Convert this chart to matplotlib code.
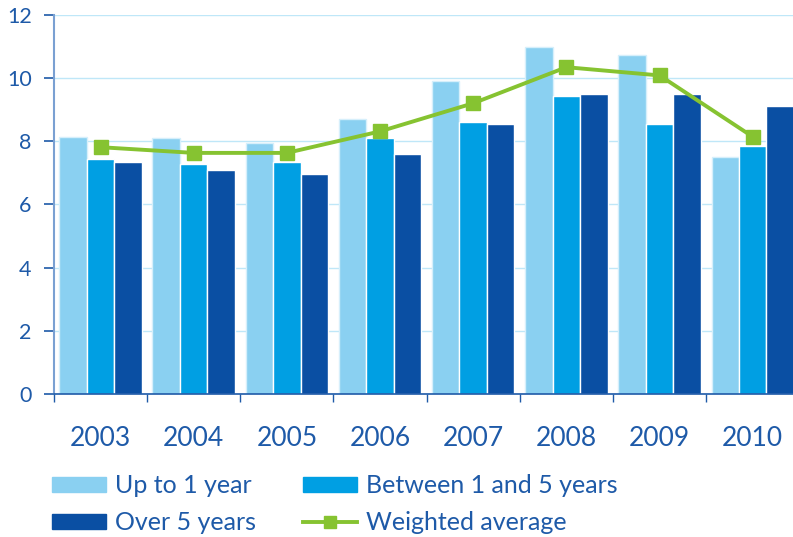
"""
Average duration by tenure band, 2003-2010: grouped bars plus weighted average line.
"""

import matplotlib.pyplot as plt
from matplotlib.lines import Line2D
import matplotlib.patches as mpatches
import numpy as np

# ---------------------------------------------------------------------------
# Data
# ---------------------------------------------------------------------------

years = ["2003", "2004", "2005", "2006", "2007", "2008", "2009", "2010"]

up_to_1_year  = [8.14, 8.09, 7.95, 8.71, 9.90, 10.98, 10.73, 7.50]
between_1_5   = [7.45, 7.28, 7.34, 8.10, 8.61, 9.43, 8.55, 7.85]
over_5_years  = [7.34, 7.09, 6.96, 7.60, 8.55, 9.49, 9.49, 9.11]
weighted_avg  = [7.81, 7.63, 7.63, 8.31, 9.20, 10.34, 10.08, 8.14]

y_ticks = [0, 2, 4, 6, 8, 10, 12]

# ---------------------------------------------------------------------------
# Styling
# ---------------------------------------------------------------------------

COLOR_LIGHT = "#8AD0F1"
COLOR_MID   = "#009FE3"
COLOR_DARK  = "#0A4FA3"
COLOR_GREEN = "#86C331"
COLOR_TEXT  = "#1E5AA8"
COLOR_GRID  = "#BFE7F8"

plt.rcParams["font.family"] = ["Lato", "DejaVu Sans"]

fig = plt.figure(figsize=(7.93, 5.37), dpi=100)
ax = fig.add_axes([0.068, 0.266, 0.94, 0.7066])

x = np.arange(len(years))
bar_w = 0.295

ax.bar(x - bar_w, up_to_1_year, width=bar_w, color=COLOR_LIGHT,
       edgecolor="#D6EFFB", linewidth=1.0, zorder=2)
ax.bar(x, between_1_5, width=bar_w, color=COLOR_MID,
       edgecolor="white", linewidth=1.0, zorder=2)
ax.bar(x + bar_w, over_5_years, width=bar_w, color=COLOR_DARK,
       edgecolor="white", linewidth=1.0, zorder=2)

ax.plot(x, weighted_avg, color=COLOR_GREEN, linewidth=2.8,
        marker="s", markersize=10, zorder=3)

# Axes
ax.set_xlim(-0.5, len(years) - 0.5)
ax.set_ylim(0, 12)
ax.set_yticks(y_ticks)
ax.yaxis.grid(True, color=COLOR_GRID, linewidth=1.0, zorder=0)
ax.set_axisbelow(True)

ax.set_xticks(x)
ax.set_xticklabels(years)
ax.set_xticks(np.arange(len(years)) - 0.5, minor=True)
ax.tick_params(axis="x", which="major", length=0, pad=23,
               labelsize=19, labelcolor=COLOR_TEXT)
ax.tick_params(axis="x", which="minor", length=6, width=1.0,
               color=COLOR_TEXT, direction="out")
ax.tick_params(axis="y", length=7, width=1.2, color=COLOR_TEXT,
               pad=9, labelsize=15.5, labelcolor=COLOR_TEXT)

for side in ["top", "right"]:
    ax.spines[side].set_visible(False)
ax.spines["left"].set_color("#7AA0D2")
ax.spines["left"].set_linewidth(1.5)
ax.spines["bottom"].set_color(COLOR_TEXT)
ax.spines["bottom"].set_linewidth(1.2)

# Legend
handles = [
    mpatches.Patch(color=COLOR_LIGHT, label="Up to 1 year"),
    mpatches.Patch(color=COLOR_DARK, label="Over 5 years"),
    mpatches.Patch(color=COLOR_MID, label="Between 1 and 5 years"),
    Line2D([], [], color=COLOR_GREEN, linewidth=2.8, marker="s",
           markersize=9, label="Weighted average"),
]
leg = fig.legend(
    handles=handles,
    loc="upper left",
    bbox_to_anchor=(0.066, 0.117),
    ncol=2,
    frameon=False,
    fontsize=18,
    handlelength=2.15,
    handleheight=0.55,
    handletextpad=0.35,
    columnspacing=1.9,
    labelspacing=0.55,
    borderaxespad=0,
    borderpad=0,
)
for t in leg.get_texts():
    t.set_color(COLOR_TEXT)

fig.savefig("out.png", dpi=100)
